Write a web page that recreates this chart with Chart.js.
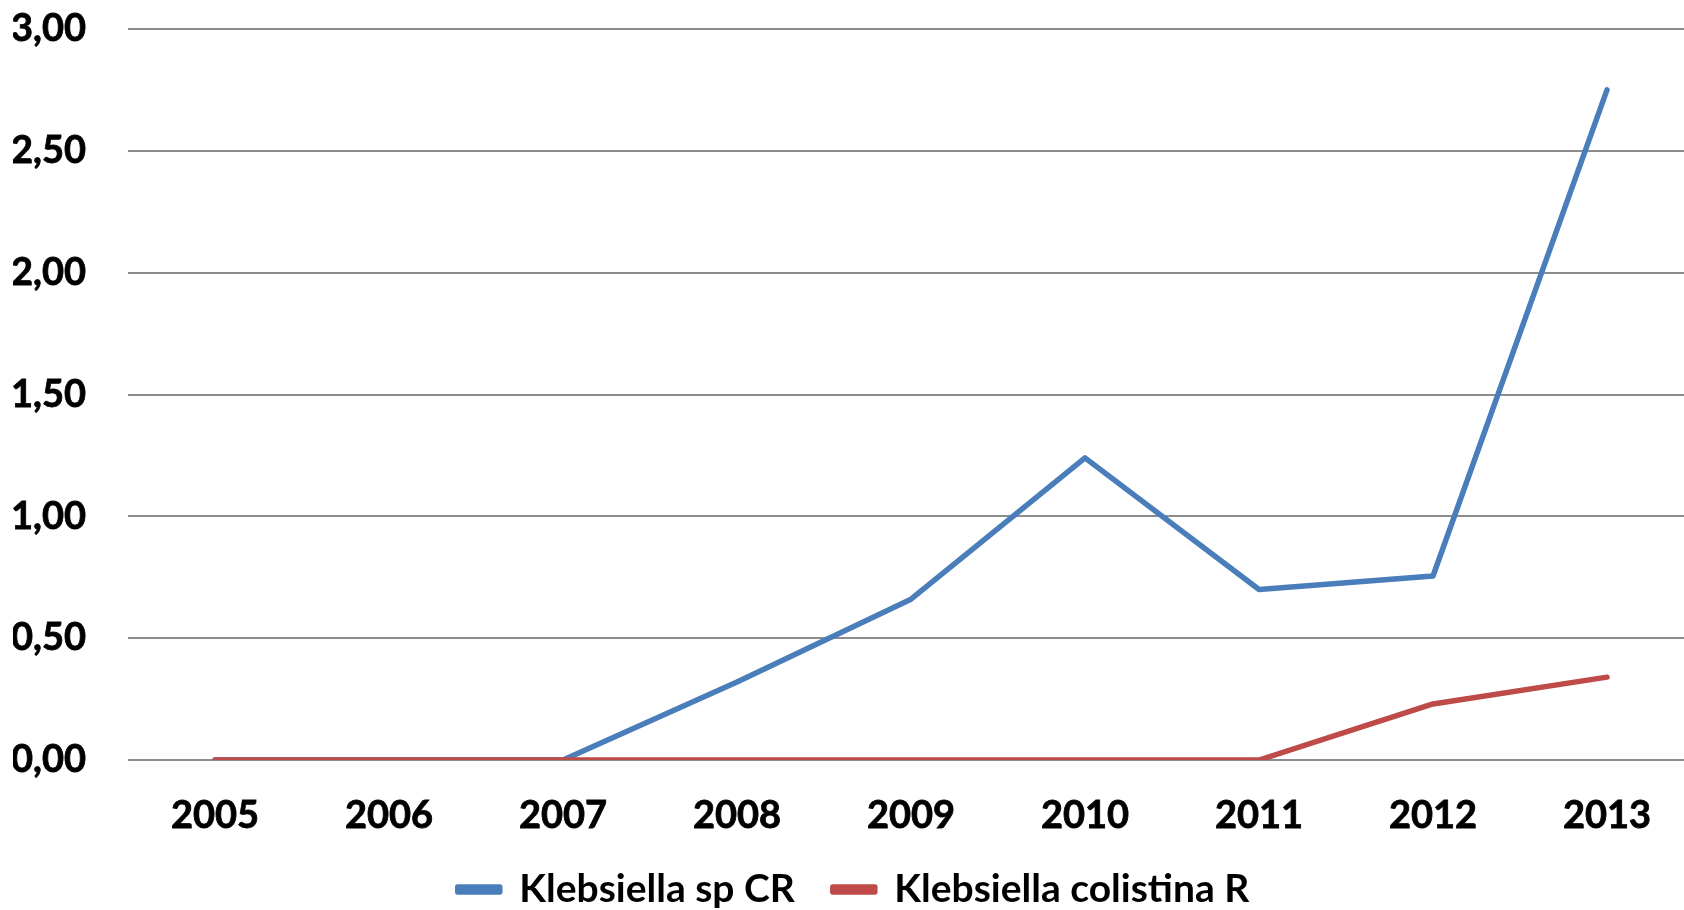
<!DOCTYPE html>
<html>
<head>
<meta charset="utf-8">
<script src="https://cdn.jsdelivr.net/npm/chart.js@4"></script>
<style>
  html, body { margin: 0; padding: 0; background: #fff; overflow: hidden; }
  #chart { display: block; }
</style>
</head>
<body>
<canvas id="chart" width="1694" height="910"></canvas>
<script>
const years = ['2005', '2006', '2007', '2008', '2009', '2010', '2011', '2012', '2013'];
const klebsiellaCR = [0, 0, 0, 0.32, 0.66, 1.24, 0.70, 0.755, 2.75];
const klebsiellaColR = [0, 0, 0, 0, 0, 0, 0, 0.23, 0.34];

const blue = '#4a7ebb';
const red = '#be4b48';
const tickFont = { family: 'Lato', weight: 'bold', size: 38 };
const legendFont = { family: 'Lato', weight: 'bold', size: 39 };

const chart = new Chart(document.getElementById('chart'), {
    type: 'line',
    data: {
        labels: years,
        datasets: [{
            label: 'Klebsiella sp CR',
            data: klebsiellaCR,
            borderColor: blue,
            backgroundColor: blue,
            order: 1
        }, {
            // drawn on top of the blue line where both sit at zero
            label: 'Klebsiella colistina R',
            data: klebsiellaColR,
            borderColor: red,
            backgroundColor: red,
            order: 0
        }]
    },
    options: {
        responsive: false,
        animation: false,
        maintainAspectRatio: false,
        elements: {
            line: { borderWidth: 5.5, tension: 0, borderCapStyle: 'round', borderJoinStyle: 'round' },
            point: { radius: 0, hoverRadius: 0 }
        },
        layout: {
            padding: { left: 13, top: 29, right: 0, bottom: -9 }
        },
        plugins: {
            tooltip: { enabled: false },
            legend: {
                position: 'bottom',
                labels: {
                    color: '#000',
                    font: legendFont,
                    boxWidth: 42,
                    boxHeight: 5,
                    padding: 38,
                    sort: (a, b) => a.datasetIndex - b.datasetIndex
                }
            }
        },
        scales: {
            x: {
                offset: true,
                grid: { display: false },
                border: { display: false },
                ticks: {
                    color: '#000', font: tickFont, padding: 25, maxRotation: 0,
                    textStrokeColor: '#000', textStrokeWidth: 0.8
                },
                afterFit: scale => { scale.height = 72; }
            },
            y: {
                min: 0,
                max: 3,
                grid: { color: '#8c8c8c', lineWidth: 2, drawTicks: false },
                border: { display: false },
                ticks: {
                    stepSize: 0.5,
                    color: '#000',
                    font: tickFont,
                    padding: 42,
                    textStrokeColor: '#000',
                    textStrokeWidth: 0.8,
                    callback: v => v.toFixed(2).replace('.', ',')
                },
                afterFit: scale => {
                    scale.width = 115;
                    scale.paddingTop = 0;
                    scale.paddingBottom = 0;
                }
            }
        }
    }
});
</script>
</body>
</html>
